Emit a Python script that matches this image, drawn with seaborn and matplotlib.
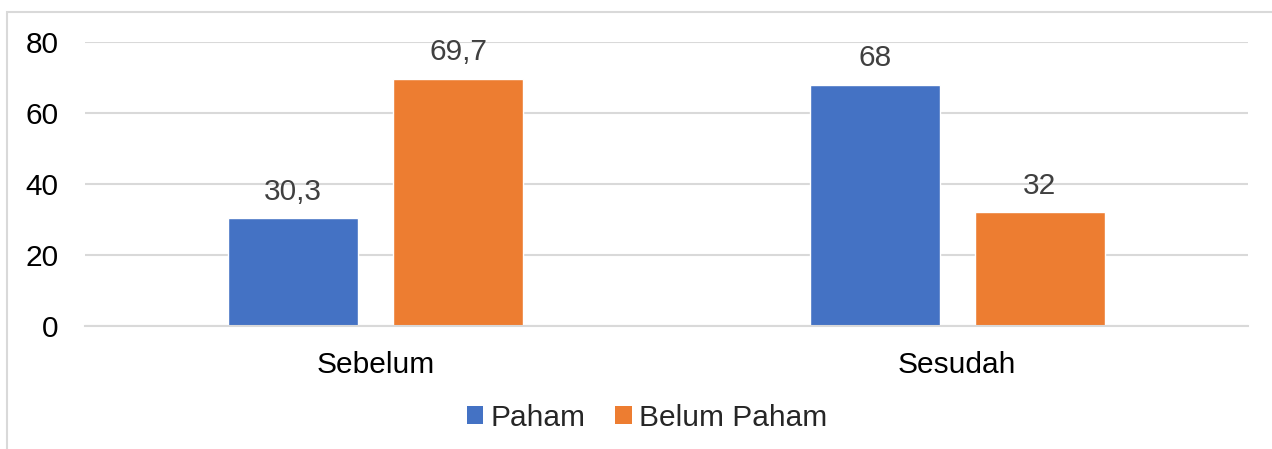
import matplotlib
matplotlib.use("Agg")
import matplotlib.pyplot as plt
import seaborn as sns
import pandas as pd
from matplotlib.patches import Rectangle

categories = ["Sebelum", "Sesudah"]
series_names = ["Paham", "Belum Paham"]
paham = [30.3, 68]
belum_paham = [69.7, 32]
yticks = [0, 20, 40, 60, 80]
colors = ["#4472C4", "#ED7D31"]

df = pd.DataFrame({
    "Waktu": categories * 2,
    "Kategori": [series_names[0]] * 2 + [series_names[1]] * 2,
    "Nilai": paham + belum_paham,
})

sns.set_style("white")
plt.rcParams["font.family"] = ["Liberation Sans", "DejaVu Sans"]

W, H = 1272, 449
fs = 21.5
fig = plt.figure(figsize=(W / 100, H / 100), dpi=100)
ax = fig.add_axes([85 / W, 123 / H, (1248 - 85) / W, (407 - 123) / H])

sns.barplot(data=df, x="Waktu", y="Nilai", hue="Kategori", order=categories,
            hue_order=series_names, palette=colors, width=0.5675, gap=0.212,
            saturation=1, ax=ax, legend=False, errorbar=None)

ax.set_ylim(0, 80)
ax.set_yticks(yticks)
ax.set_xlim(-0.5, 1.5)
ax.yaxis.grid(True, color="#d9d9d9", linewidth=1.5)
ax.set_axisbelow(True)
for s in ["top", "right", "left"]:
    ax.spines[s].set_visible(False)
ax.spines["bottom"].set_color("#d9d9d9")
ax.spines["bottom"].set_linewidth(1.5)
ax.set_xlabel("")
ax.set_ylabel("")
ax.tick_params(axis="y", length=0, pad=19, labelsize=fs, labelcolor="#000000")
ax.tick_params(axis="x", length=0, pad=18, labelsize=fs, labelcolor="#000000")

for container in ax.containers:
    labs = [f"{v:g}".replace(".", ",") for v in container.datavalues]
    ax.bar_label(container, labels=labs, padding=9, fontsize=fs, color="#404040")

handles = [Rectangle((0, 0), 1, 1, facecolor=c, edgecolor="none") for c in colors]
fig.legend(handles, series_names, loc="center", bbox_to_anchor=(647 / W, 1 - 418 / H),
           ncol=2, frameon=False, fontsize=fs, handlelength=0.55, handleheight=0.55,
           handletextpad=0.25, columnspacing=1.0)

fig.patches.append(Rectangle((7 / W, -0.1), 2, (H - 12) / H + 0.1, transform=fig.transFigure,
                             fill=False, edgecolor="#d9d9d9", linewidth=1.5))

fig.savefig("out.png", dpi=100)
